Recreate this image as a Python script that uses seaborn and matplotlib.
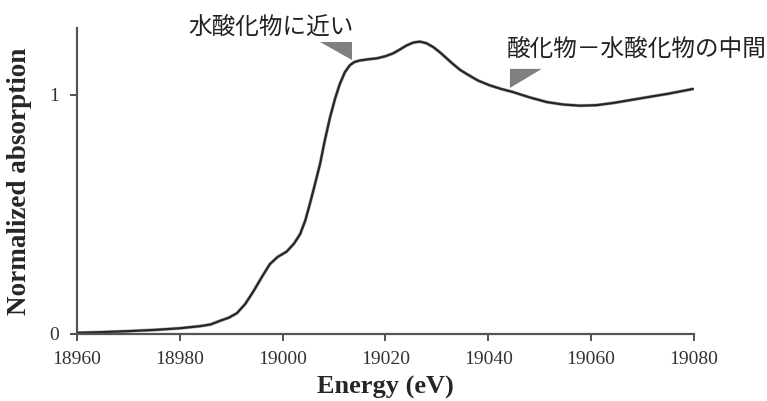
import matplotlib
matplotlib.use('Agg')
import matplotlib.pyplot as plt
import pandas as pd
import seaborn as sns

# XANES spectrum
energy = [18960, 18965, 18970, 18975, 18980, 18984, 18986, 18987.8, 18989.5, 18991.1,
          18992.7, 18994.3, 18996, 18997.5, 18999, 19000.8, 19002.2, 19003.4, 19004.4,
          19005.3, 19006.3, 19007.3, 19008.2, 19009.2, 19010.2, 19011.1, 19012.1,
          19013.1, 19014, 19015, 19016.6, 19018.3, 19020, 19021.5, 19022.8, 19024.1,
          19025.4, 19026.7, 19028, 19029.3, 19030.6, 19031.9, 19033.2, 19034.5,
          19036, 19038, 19040.3, 19042.5, 19044.8, 19048, 19051.4, 19054.5, 19057.8,
          19061, 19064.2, 19067.5, 19070.8, 19075, 19079.8]
absorption = [0.005, 0.008, 0.012, 0.017, 0.024, 0.033, 0.040, 0.055, 0.068, 0.087,
              0.125, 0.178, 0.240, 0.292, 0.322, 0.345, 0.378, 0.418, 0.475,
              0.545, 0.628, 0.714, 0.810, 0.905, 0.985, 1.045, 1.095,
              1.125, 1.138, 1.144, 1.149, 1.153, 1.162, 1.174, 1.190, 1.207,
              1.219, 1.223, 1.216, 1.200, 1.178, 1.153, 1.128, 1.105,
              1.085, 1.060, 1.040, 1.025, 1.012, 0.990, 0.970, 0.960, 0.955,
              0.957, 0.966, 0.978, 0.990, 1.005, 1.025]

x_ticks = [18960, 18980, 19000, 19020, 19040, 19060, 19080]
y_ticks = [0, 1]

labels = ['水酸化物に近い', '酸化物－水酸化物の中間']
label_pos = [(18981.6, 1.285), (19043.6, 1.192)]
# grey pointer triangles next to the labels
triangles = [
    [(19007.3, 1.222), (19013.5, 1.222), (19013.5, 1.146)],
    [(19044.2, 1.109), (19050.4, 1.109), (19044.2, 1.029)],
]

df = pd.DataFrame({'energy': energy, 'absorption': absorption})

sns.set_theme(style='ticks')
plt.rcParams['font.family'] = ['Liberation Serif', 'DejaVu Serif']

fig = plt.figure(figsize=(7.67, 4.01), dpi=100)
ax = fig.add_axes([0.1004, 0.1671, 0.8044, 0.7631])

sns.lineplot(data=df, x='energy', y='absorption', color='#b0b0b0', lw=2.4, ax=ax)
sns.lineplot(data=df, x='energy', y='absorption', color='#262626', lw=1.6, ax=ax)

ax.set_xlim(18960, 19080)
ax.set_ylim(0, 1.28)
ax.set_xticks(x_ticks)
ax.set_yticks(y_ticks)
ax.tick_params(labelsize=14, colors='#333333', length=5, width=1.2, direction='out')
ax.tick_params(axis='x', pad=7)
ax.tick_params(axis='y', pad=8)
for s in ['top', 'right']:
    ax.spines[s].set_visible(False)
for s in ['left', 'bottom']:
    ax.spines[s].set_color('#555555')
    ax.spines[s].set_linewidth(1.6)

ax.set_xlabel('Energy (eV)', fontsize=19, fontweight='bold', labelpad=6)
ax.set_ylabel('Normalized absorption', fontsize=19.5, fontweight='bold', labelpad=12)

for txt, (x, y) in zip(labels, label_pos):
    ax.text(x, y, txt, ha='left', va='center', fontsize=17, color='#222222',
            family=['Noto Sans CJK JP', 'DejaVu Sans'], clip_on=False)
for tri in triangles:
    ax.add_patch(plt.Polygon(tri, closed=True, color='#808080', lw=0, clip_on=False))

fig.savefig('out.png', dpi=100)
